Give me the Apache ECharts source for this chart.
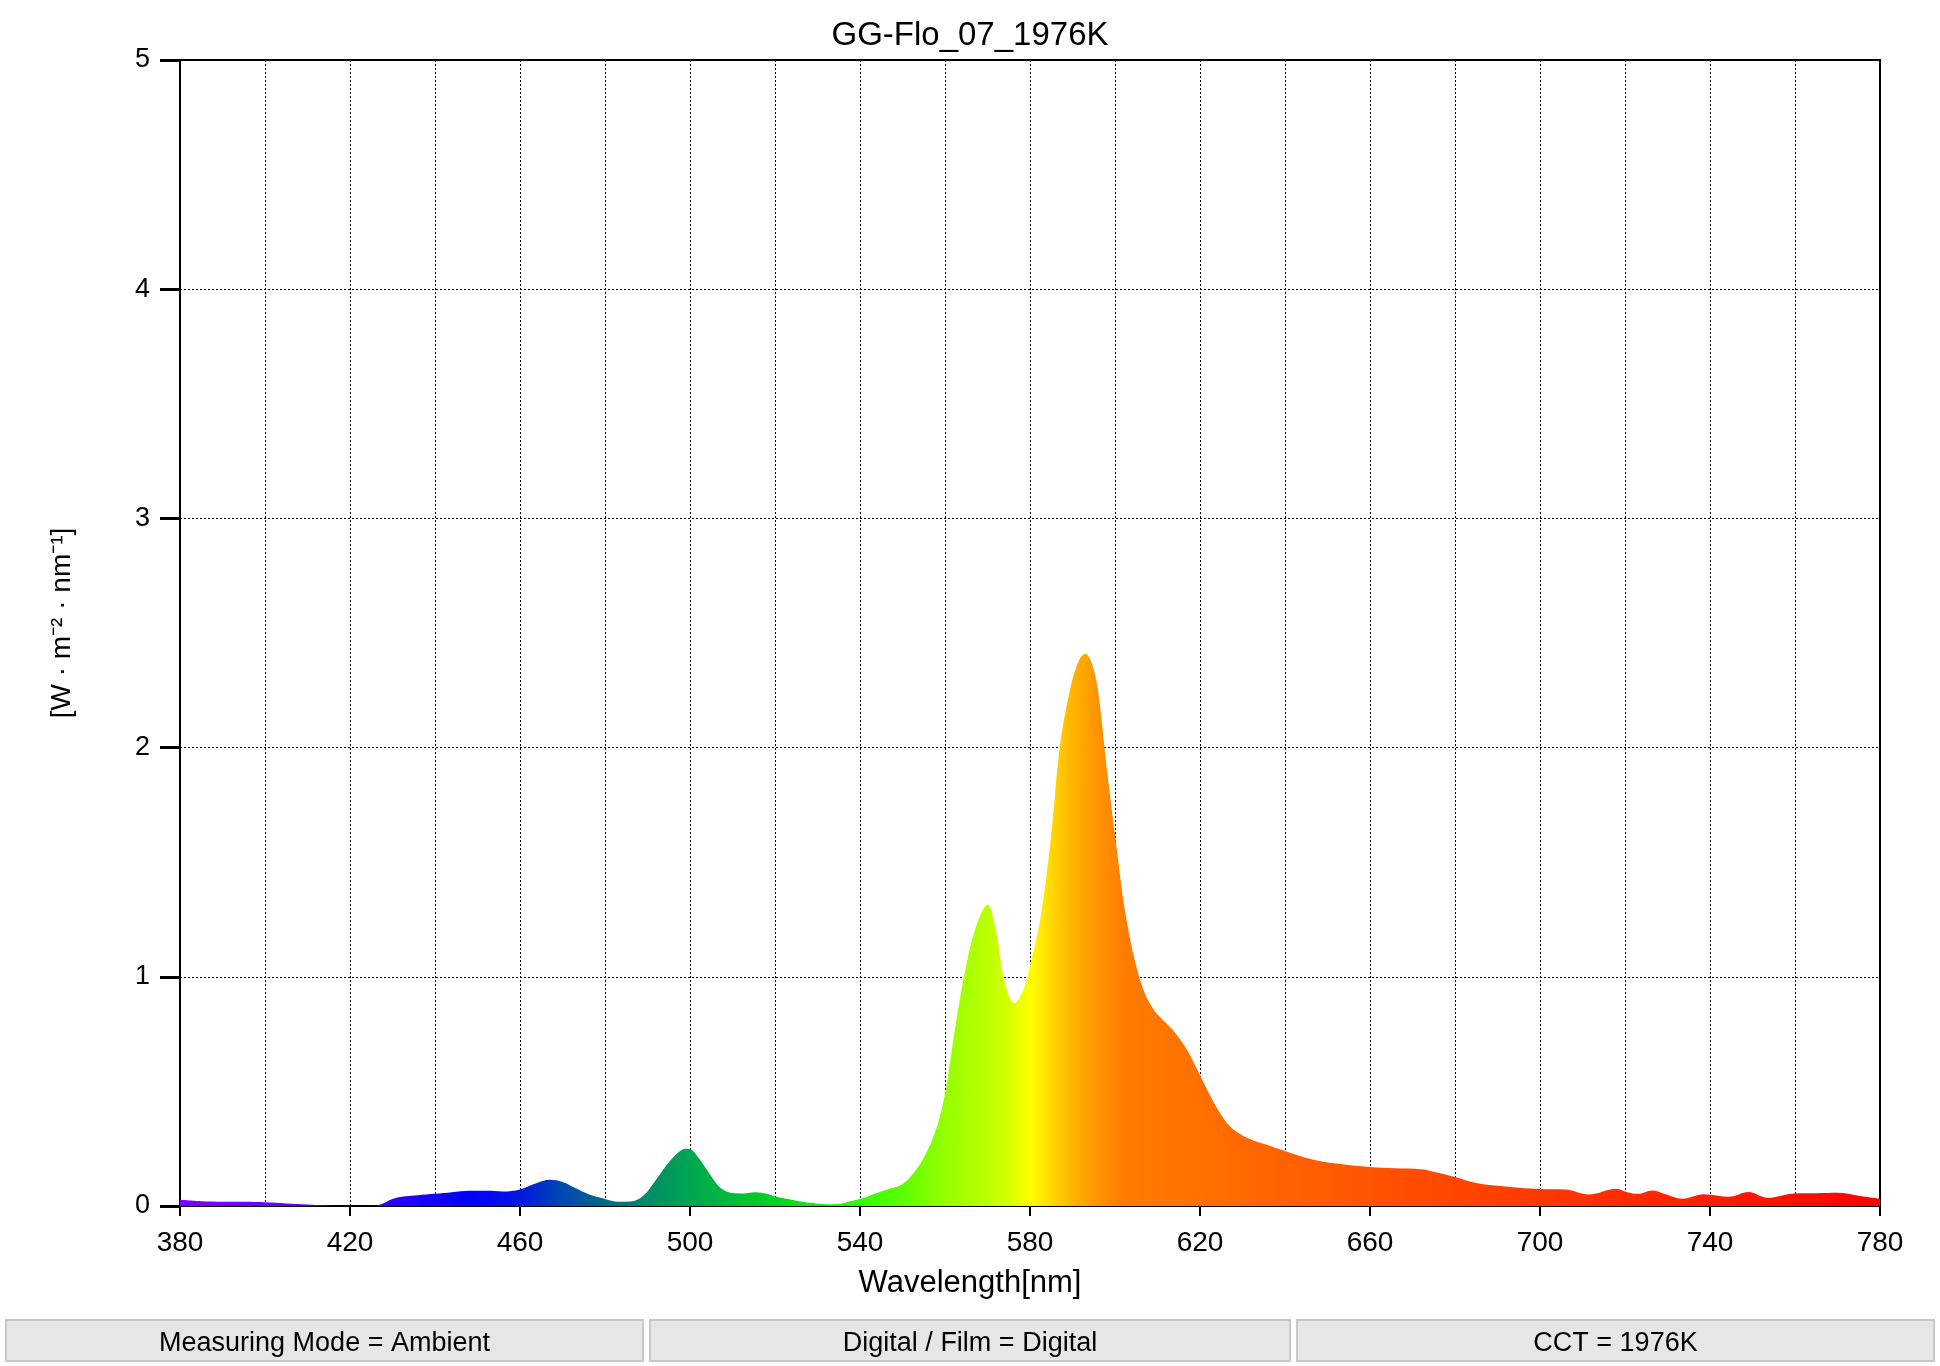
<!DOCTYPE html>
<html>
<head>
<meta charset="utf-8">
<title>GG-Flo_07_1976K</title>
<script src="https://cdn.jsdelivr.net/npm/echarts@6/dist/echarts.min.js"></script>
<style>
    html, body { margin: 0; padding: 0; background: #fff; }
    #chart { width: 1940px; height: 1366px; }
</style>
</head>
<body>
<div id="chart"></div>
<script>
// 波长 (nm)
let wavelengths = [
    380, 385, 390, 395, 400, 405, 410, 414, 416, 420, 425, 427, 430, 433, 436, 440, 444, 448, 452, 456,
    460, 464, 467, 470, 473, 476, 480, 483, 486, 489, 492, 495, 497.5, 499, 500.5, 502.5, 505, 507, 509.5, 512.5,
    515.5, 518, 520, 523, 526, 529, 532, 535, 538, 540, 544, 547, 549.5, 552, 555, 558, 560, 562.5, 565, 567.5,
    570, 572, 574, 576.3, 578.5, 580, 582.5, 585, 587, 589.5, 591.5, 593, 594.5, 596, 598, 600, 602.7, 606, 609, 613.5,
    617, 620, 623, 626, 628.5, 632, 636, 640, 646, 652, 660, 666, 672, 676, 680, 685, 690, 695, 700, 706,
    711.5, 718, 720.5, 723, 726.5, 729, 733.5, 738.5, 744.5, 749, 753.5, 760, 765, 770, 775, 780
];
// 辐照度 W·m-2·nm-1
let irradiance = [
    0.027, 0.021, 0.019, 0.018, 0.016, 0.011, 0.007, 0.003, 0, 0, 0, 0.005, 0.03, 0.042, 0.047, 0.053, 0.06, 0.066, 0.066, 0.063,
    0.072, 0.1, 0.114, 0.105, 0.078, 0.052, 0.031, 0.019, 0.02, 0.045, 0.115, 0.19, 0.238, 0.25, 0.243, 0.197, 0.13, 0.082, 0.058, 0.055,
    0.06, 0.053, 0.041, 0.03, 0.02, 0.013, 0.008, 0.009, 0.022, 0.03, 0.057, 0.075, 0.09, 0.13, 0.21, 0.34, 0.49, 0.79, 1.05, 1.23,
    1.315, 1.2, 0.98, 0.886, 0.945, 1.05, 1.26, 1.62, 2.0, 2.26, 2.38, 2.41, 2.37, 2.25, 1.92, 1.62, 1.25, 0.98, 0.86, 0.77,
    0.68, 0.57, 0.46, 0.37, 0.325, 0.29, 0.265, 0.24, 0.205, 0.185, 0.17, 0.165, 0.16, 0.145, 0.126, 0.1, 0.088, 0.08, 0.074, 0.072,
    0.05, 0.075, 0.06, 0.053, 0.068, 0.055, 0.032, 0.051, 0.04, 0.061, 0.036, 0.055, 0.056, 0.058, 0.045, 0.032
];
// 坐标刻度
let xTicks = [380, 420, 460, 500, 540, 580, 620, 660, 700, 740, 780];
let yTicks = [0, 1, 2, 3, 4, 5];
// 底部信息栏
let footerTexts = ['Measuring Mode = Ambient', 'Digital / Film = Digital', 'CCT = 1976K'];

// 光谱颜色
let specWl = [380, 400, 420, 435, 448, 460, 470, 480, 490, 500, 510, 520, 540, 550, 560, 570, 575, 580, 585, 590, 596, 602, 620, 660, 700, 740, 780];
let specColor = ['#8000ff', '#6a00ff', '#4000ff', '#2000ff', '#0000ff', '#0018e0', '#0048b0', '#006a85', '#008c68', '#00a650',
    '#00bc38', '#00d422', '#30ff00', '#5cff00', '#95ff00', '#bbff00', '#d8ff00', '#ffff00', '#ffd800', '#ffb400',
    '#ff9400', '#ff7c00', '#ff7000', '#ff5400', '#ff3800', '#ff1e00', '#ff0000'];

let font = '"Liberation Sans", Arial, Helvetica, sans-serif';
let xMin = xTicks[0], xMax = xTicks[xTicks.length - 1];

let stops = specWl.map((w, i) => ({
    offset: (w - xMin) / (xMax - xMin),
    color: specColor[i]
}));

let seriesData = wavelengths.map((w, i) => [w, irradiance[i]]);

// 底部信息框
let boxes = [{ x: 6, w: 637 }, { x: 650, w: 640 }, { x: 1297, w: 637 }];
let graphics = [];
boxes.forEach((b, i) => {
    graphics.push({
        type: 'rect',
        shape: { x: b.x, y: 1320, width: b.w, height: 41 },
        style: { fill: '#e6e6e6', stroke: '#c8c8c8', lineWidth: 2 }
    });
    graphics.push({
        type: 'text',
        x: b.x + b.w / 2,
        y: 1344,
        style: {
            text: footerTexts[i],
            fontSize: 27,
            fontFamily: font,
            fill: '#000',
            align: 'center',
            verticalAlign: 'middle'
        }
    });
});

let myChart = echarts.init(document.getElementById('chart'));
let option = {
    backgroundColor: '#fff',
    animation: false,
    title: {
        text: 'GG-Flo_07_1976K',
        left: 'center',
        top: 14,
        textStyle: {
            fontFamily: font,
            fontSize: 33,
            fontWeight: 'normal',
            color: '#000'
        }
    },
    grid: {
        left: 180,
        right: 60,
        top: 60,
        bottom: 160,
        show: true,
        borderColor: '#000',
        borderWidth: 2,
        backgroundColor: 'transparent'
    },
    xAxis: {
        type: 'value',
        min: xMin,
        max: xMax,
        interval: 40,
        name: 'Wavelength[nm]',
        nameLocation: 'middle',
        nameGap: 62,
        // 名称居中于整个画布
        nameTextStyle: { fontFamily: font, fontSize: 31, color: '#000', padding: [0, 120, 0, 0] },
        axisLine: { show: true, onZero: false, lineStyle: { color: '#000', width: 2 } },
        axisTick: { show: true, inside: false, length: 10, lineStyle: { color: '#000', width: 2 } },
        axisLabel: { margin: 23, fontFamily: font, fontSize: 28, color: '#000' },
        splitLine: { show: true, lineStyle: { color: '#000', width: 1, type: [2, 2] } },
        minorTick: { show: false, splitNumber: 2 },
        minorSplitLine: { show: true, lineStyle: { color: '#000', width: 1, type: [2, 2] } }
    },
    yAxis: {
        type: 'value',
        min: yTicks[0],
        max: yTicks[yTicks.length - 1],
        interval: 1,
        name: '[W \u00b7 m\u207b\u00b2 \u00b7 nm\u207b\u00b9]',
        nameLocation: 'middle',
        nameRotate: 90,
        nameGap: 104,
        nameTextStyle: { fontFamily: font, fontSize: 28, color: '#000', padding: [0, 0, 0, 20] },
        axisLine: { show: true, lineStyle: { color: '#000', width: 2 } },
        axisTick: { show: true, inside: false, length: 20, lineStyle: { color: '#000', width: 3 } },
        axisLabel: { margin: 30, fontFamily: font, fontSize: 27, color: '#000' },
        splitLine: { show: true, lineStyle: { color: '#000', width: 1, type: [2, 2] } }
    },
    series: [{
        type: 'line',
        data: seriesData,
        smooth: 0.35,
        showSymbol: false,
        clip: true,
        lineStyle: { width: 0 },
        areaStyle: {
            opacity: 1,
            color: {
                type: 'linear',
                x: 0, y: 0, x2: 1, y2: 0,
                colorStops: stops
            }
        },
        z: 3
    }],
    graphic: graphics
};
myChart.setOption(option);
</script>
</body>
</html>
